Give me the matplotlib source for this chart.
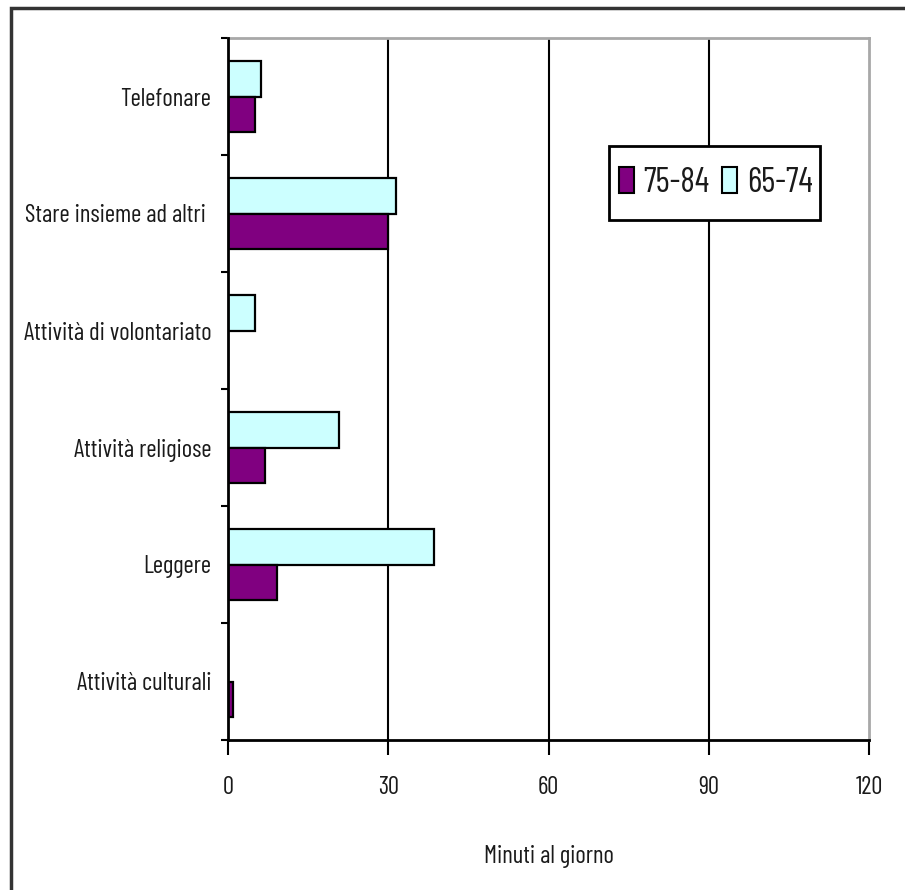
import matplotlib
matplotlib.use("Agg")
import matplotlib.pyplot as plt
from matplotlib import font_manager as fm
from matplotlib.textpath import TextPath
from matplotlib.font_manager import FontProperties
from matplotlib.patches import Rectangle, Patch
import numpy as np

categories = ["Telefonare", "Stare insieme ad altri ", "Attività di volontariato",
              "Attività religiose", "Leggere", "Attività culturali"]
series_names = ["75-84", "65-74"]
vals_75_84 = [5.1, 30.0, 0.0, 7.0, 9.2, 1.0]
vals_65_74 = [6.2, 31.5, 5.1, 20.7, 38.5, 0.0]
xticks = [0, 30, 60, 90, 120]
xlabel = "Minuti al giorno"

col_75 = "#800080"
col_65 = "#CCFFFF"
text_col = "#1a1a1a"

# choose the installed condensed grotesque whose proportions best match the reference
candidates = ['Roboto Condensed', 'Archivo Narrow', 'PT Sans Narrow', 'Sofia Sans Condensed',
              'Barlow Condensed', 'Encode Sans Condensed', 'IBM Plex Sans Condensed',
              'Open Sans Condensed']
available = {f.name for f in fm.fontManager.ttflist}
target_ratio = 22.0 / 181.0   # cap height / width of "Stare insieme ad altri"
best, best_err = 'DejaVu Sans', 1e9
for c in candidates:
    if c not in available:
        continue
    fp = FontProperties(family=c)
    try:
        w = TextPath((0, 0), "Stare insieme ad altri", size=10, prop=fp).get_extents().width
        hcap = TextPath((0, 0), "T", size=10, prop=fp).get_extents().height
    except Exception:
        continue
    err = abs(hcap / w - target_ratio)
    if err < best_err:
        best, best_err = c, err
FONT = [best, 'DejaVu Sans']
plt.rcParams['font.family'] = FONT

fig = plt.figure(figsize=(9.05, 8.90), dpi=100)

renderer = fig.canvas.get_renderer()
def size_for(text, target_px, base=20.0):
    t = fig.text(0, 0, text, fontsize=base)
    w = t.get_window_extent(renderer=renderer).width
    t.remove()
    return base * target_px / w

fs_lab = size_for("Stare insieme ad altri", 181)
fs_leg = size_for("75-84", 66)

W, H = 905.0, 890.0
ax = fig.add_axes([228/W, 1-740/H, (869-228)/W, (740-38)/H])

n = len(categories)
y = np.arange(n)[::-1].astype(float)  # Telefonare on top
h = 0.30
ax.barh(y + h/2, vals_65_74, height=h, color=col_65, edgecolor="black", linewidth=1.6, zorder=3)
ax.barh(y - h/2, vals_75_84, height=h, color=col_75, edgecolor="black", linewidth=1.6, zorder=3)

ax.set_xlim(0, 120)
ax.set_ylim(-0.5, n - 0.5)
ax.set_xticks(xticks)
ax.set_xticklabels([str(t) for t in xticks])
ax.set_yticks(y)
ax.set_yticklabels(categories)
ax.set_yticks(np.arange(-0.5, n, 1.0), minor=True)

ax.tick_params(axis='y', which='major', length=0, pad=12, labelsize=fs_lab, labelcolor=text_col)
ax.tick_params(axis='y', which='minor', length=5, width=1.5, direction='out', color='black')
ax.tick_params(axis='x', which='major', length=11, width=1.5, direction='out', color='black',
               pad=15, labelsize=fs_lab, labelcolor=text_col)

for xv in xticks[1:-1]:
    ax.axvline(xv, color='black', linewidth=1.5, zorder=1)

for s in ['left', 'bottom']:
    ax.spines[s].set_color('black')
    ax.spines[s].set_linewidth(2.0)
    ax.spines[s].set_zorder(4)
for s in ['top', 'right']:
    ax.spines[s].set_color('#a8a8a8')
    ax.spines[s].set_linewidth(2.0)

ax.set_xlabel(xlabel, fontsize=fs_lab, color=text_col, labelpad=33)

# legend box (drawn in figure pixels converted to axes fraction)
ax_l, ax_t, ax_w, ax_h = 228, 38, 869-228, 740-38
bx0, bx1, by0, by1 = 609, 820, 146, 220
rx = (bx0 - ax_l) / ax_w
ry = 1 - (by1 - ax_t) / ax_h
rw = (bx1 - bx0) / ax_w
rh = (by1 - by0) / ax_h
ax.add_patch(Rectangle((rx, ry), rw, rh, transform=ax.transAxes, facecolor='white',
                       edgecolor='black', linewidth=2.0, zorder=5, clip_on=False))

fs_px = fs_leg * 100 / 72
handles = [Patch(facecolor=col_75, edgecolor='black', linewidth=1.5),
           Patch(facecolor=col_65, edgecolor='black', linewidth=1.5)]
leg = ax.legend(handles, series_names, loc='center',
                bbox_to_anchor=(rx + rw/2 + 1.0/ax_w, ry + rh/2),
                ncol=2, fontsize=fs_leg, frameon=False,
                handlelength=15/fs_px, handleheight=26/fs_px, handletextpad=10/fs_px,
                columnspacing=12/fs_px, borderpad=0, borderaxespad=0)
leg.set_zorder(6)
for t in leg.get_texts():
    t.set_color(text_col)

# outer chart border (left and top visible)
fig.add_artist(Rectangle((11/W, -0.1), 1.2, 1.1 - 8/H, transform=fig.transFigure,
                         fill=False, edgecolor='#333333', linewidth=2.5))

fig.savefig("out.png", dpi=100, facecolor='white')
